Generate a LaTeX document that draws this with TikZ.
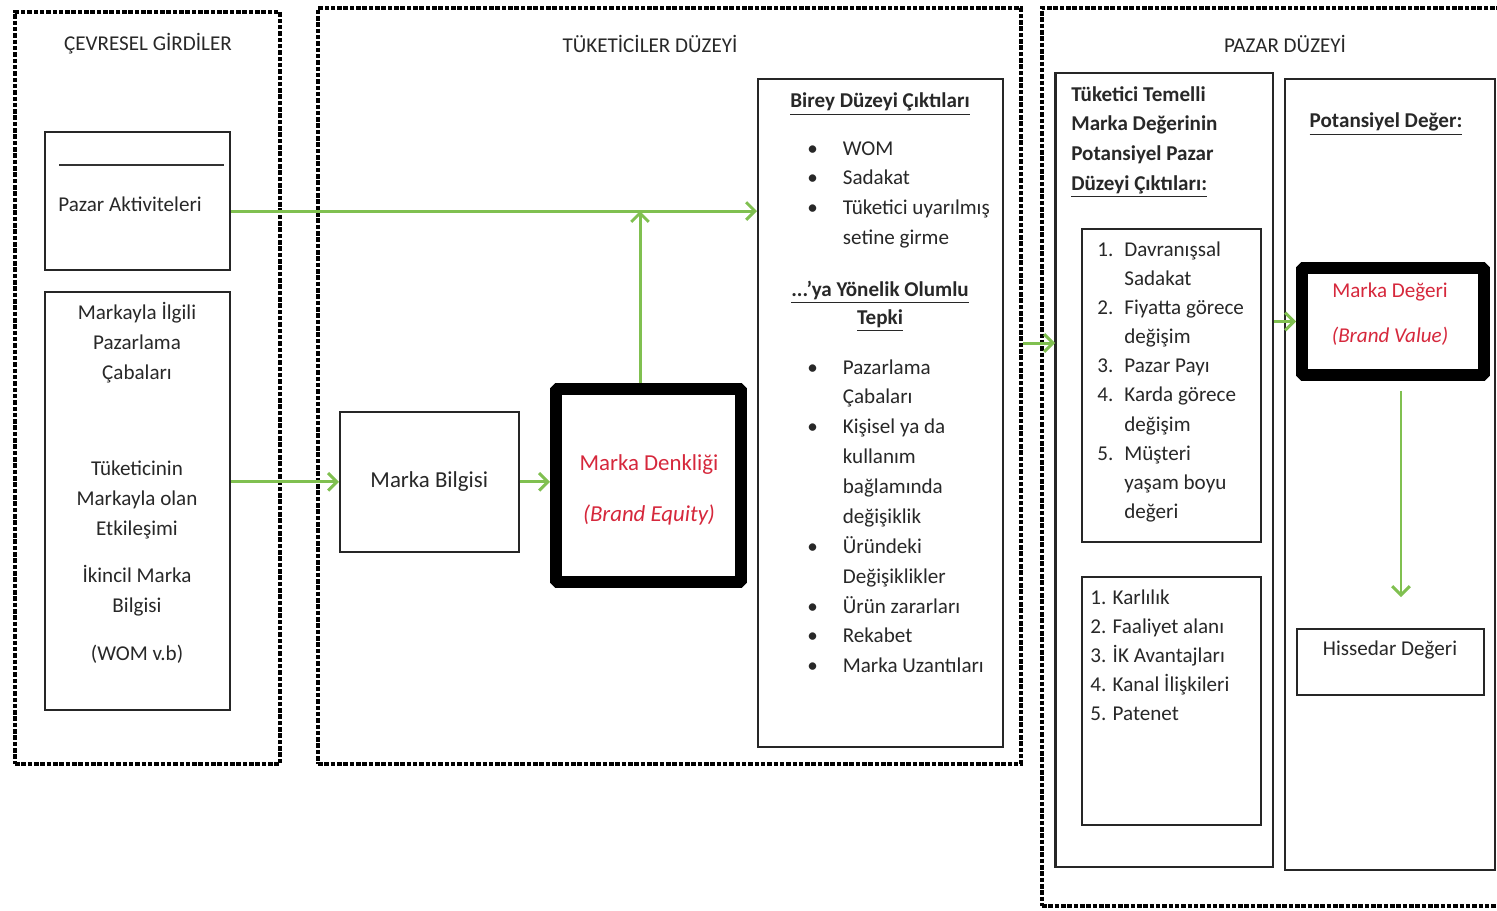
\documentclass[tikz,border=0pt]{standalone}
\usepackage{fontspec}
\setmainfont{Carlito}
\usetikzlibrary{arrows.meta}
\usetikzlibrary{positioning}
\usepackage{color}

\definecolor{okyesil}{RGB}{128,192,80}
\definecolor{markakirmizi}{RGB}{214,40,60}
\definecolor{yazigri}{RGB}{40,40,40}

\tikzset{
    cerceve/.style={anchor=north west,draw=black,line width=2.3pt,dash pattern=on 2.6pt off 1pt},
    kutu/.style={anchor=north west,draw=black!85,line width=0.9pt,fill=white},
    kalin/.style={anchor=north west,draw=black,line width=6.8pt,fill=white,rounded corners=1pt},
    ok/.style={draw=okyesil,line width=1.7pt,-{Straight Barb[length=5pt,width=10pt]}},
    yazi/.style={text=yazigri,font=\fontsize{12}{17}\selectfont,align=center,inner sep=0pt},
    liste/.style={text=yazigri,font=\fontsize{12}{17}\selectfont,anchor=base west,inner sep=0pt},
}

\begin{document}
\begin{tikzpicture}[x=1cm,y=-1cm]
    \clip (0,0) rectangle (29.94,18.2);
    \fill[white] (0,0) rectangle (29.94,18.2);

    % cevresel girdiler
    \node[cerceve,minimum width=5.3cm,minimum height=15.04cm] (girdi) at (0.26,0.2) {};
    \node[yazi] (girdibaslik) at (2.96,0.88) {ÇEVRESEL GİRDİLER};
    \node[kutu,minimum width=3.7cm,minimum height=2.76cm] (pazar) at (0.88,2.62) {};
    \draw[black!80,line width=0.6pt] (1.18,3.3) -- (4.48,3.3);
    \node[yazi] (pazaryazi) at (2.6,4.08) {Pazar Aktiviteleri};
    \node[kutu,minimum width=3.7cm,minimum height=8.36cm] (caba) at (0.88,5.82) {};
    \node[yazi] (cabayazi) at (2.74,6.85) {Markayla İlgili\\Pazarlama\\Çabaları};
    \node[yazi] (etkilesim) at (2.74,11.24) {Tüketicinin\\Markayla olan\\Etkileşimi\\[10pt]İkincil Marka\\Bilgisi\\[10pt](WOM v.b)};

    % tuketiciler duzeyi
    \node[cerceve,minimum width=14.06cm,minimum height=15.12cm] (tuketici) at (6.32,0.12) {};
    \node[yazi] (tuketicibaslik) at (13.0,0.88) {TÜKETİCİLER DÜZEYİ};
    \node[kutu,minimum width=3.58cm,minimum height=2.8cm,text=yazigri,font=\fontsize{13}{17}\selectfont] (bilgi) at (6.78,8.22) {Marka Bilgisi};
    \node[kalin,minimum width=3.7cm,minimum height=3.86cm] (denklik) at (11.0,7.66) {};
    \node[yazi,text=markakirmizi,font=\fontsize{13}{17}\selectfont] (denklikyazi) at (12.98,9.8) {Marka Denkliği\\[12pt]\textit{(Brand Equity)}};

    \node[kutu,minimum width=4.9cm,minimum height=13.36cm] (birey) at (15.14,1.56) {};
    \node[yazi,font=\bfseries\fontsize{12}{17}\selectfont] (bireybaslik) at (17.6,2.08) {\underline{Birey Düzeyi Çıktıları}};
    \node[liste] (bireyliste) at (16.14,3.1) {\begin{tabular}[t]{@{}l@{\hspace{0.5cm}}l@{}}
        \textbullet & WOM\\
        \textbullet & Sadakat\\
        \textbullet & Tüketici uyarılmış\\
                    & setine girme
    \end{tabular}};
    \node[yazi,font=\bfseries\fontsize{12}{16}\selectfont] (tepkibaslik) at (17.6,6.12) {\underline{...’ya Yönelik Olumlu}\\\underline{Tepki}};
    \node[liste] (tepkiliste) at (16.14,7.48) {\begin{tabular}[t]{@{}l@{\hspace{0.5cm}}l@{}}
        \textbullet & Pazarlama\\
                    & Çabaları\\
        \textbullet & Kişisel ya da\\
                    & kullanım\\
                    & bağlamında\\
                    & değişiklik\\
        \textbullet & Üründeki\\
                    & Değişiklikler\\
        \textbullet & Ürün zararları\\
        \textbullet & Rekabet\\
        \textbullet & Marka Uzantıları
    \end{tabular}};

    % pazar duzeyi
    \node[cerceve,minimum width=9.4cm,minimum height=17.96cm] (pazardz) at (20.8,0.12) {};
    \node[yazi] (pazarbaslik) at (25.7,0.88) {PAZAR DÜZEYİ};
    \node[kutu,minimum width=4.34cm,minimum height=15.88cm] (temel) at (21.1,1.44) {};
    \draw[black!85,line width=1.6pt] (temel.north west) -- (temel.south west);
    \node[liste,font=\bfseries\fontsize{12}{17}\selectfont] (temelbaslik) at (21.42,2.02) {\begin{tabular}[t]{@{}l@{}}
        Tüketici Temelli\\
        Marka Değerinin\\
        Potansiyel Pazar\\
        \underline{Düzeyi Çıktıları:}
    \end{tabular}};
    \node[kutu,minimum width=3.58cm,minimum height=6.26cm] (davranis) at (21.62,4.56) {};
    \node[liste,font=\fontsize{12}{16.6}\selectfont] (davranisliste) at (21.94,5.12) {\begin{tabular}[t]{@{}l@{\hspace{0.22cm}}l@{}}
        1. & Davranışsal\\
           & Sadakat\\
        2. & Fiyatta görece\\
           & değişim\\
        3. & Pazar Payı\\
        4. & Karda görece\\
           & değişim\\
        5. & Müşteri\\
           & yaşam boyu\\
           & değeri
    \end{tabular}};
    \node[kutu,minimum width=3.58cm,minimum height=4.96cm] (finans) at (21.62,11.52) {};
    \node[liste,font=\fontsize{12}{16.6}\selectfont] (finansliste) at (21.8,12.08) {\begin{tabular}[t]{@{}l@{}}
        1. Karlılık\\
        2. Faaliyet alanı\\
        3. İK Avantajları\\
        4. Kanal İlişkileri\\
        5. Patenet
    \end{tabular}};

    \node[kutu,minimum width=4.2cm,minimum height=15.82cm] (potansiyel) at (25.68,1.56) {};
    \node[yazi,font=\bfseries\fontsize{12}{17}\selectfont] (potansiyelbaslik) at (27.72,2.48) {\underline{Potansiyel Değer:}};
    \node[kalin,minimum width=3.64cm,minimum height=2.14cm] (deger) at (25.92,5.24) {};
    \node[yazi,text=markakirmizi] (degeryazi) at (27.8,6.29) {Marka Değeri\\[8.5pt]\textit{(Brand Value)}};
    \node[kutu,minimum width=3.74cm,minimum height=1.32cm] (hissedar) at (25.92,12.56) {};
    \node[yazi] (hissedaryazi) at (27.8,13.0) {Hissedar Değeri};

    % oklar
    \coordinate (kesisim) at (12.8,4.22);
    \coordinate (gecis) at (tuketici.east |- 0,6.86);
    \draw[ok] (pazar.east |- kesisim) -- (birey.west |- kesisim);
    \draw[ok] (denklik.north -| kesisim) -- (kesisim);
    \draw[ok] (bilgi.west -| caba.east) -- (bilgi.west);
    \draw[ok] (bilgi.east) -- (bilgi.east -| denklik.west);
    \draw[ok] (gecis) -- (temel.west |- gecis);
    \draw[ok] (deger.west -| temel.east) -- (deger.west);
    \draw[ok,shorten <=0.2cm,shorten >=0.62cm] ([xshift=0.16cm]deger.south) -- ([xshift=0.16cm]deger.south |- hissedar.north);
\end{tikzpicture}
\end{document}
